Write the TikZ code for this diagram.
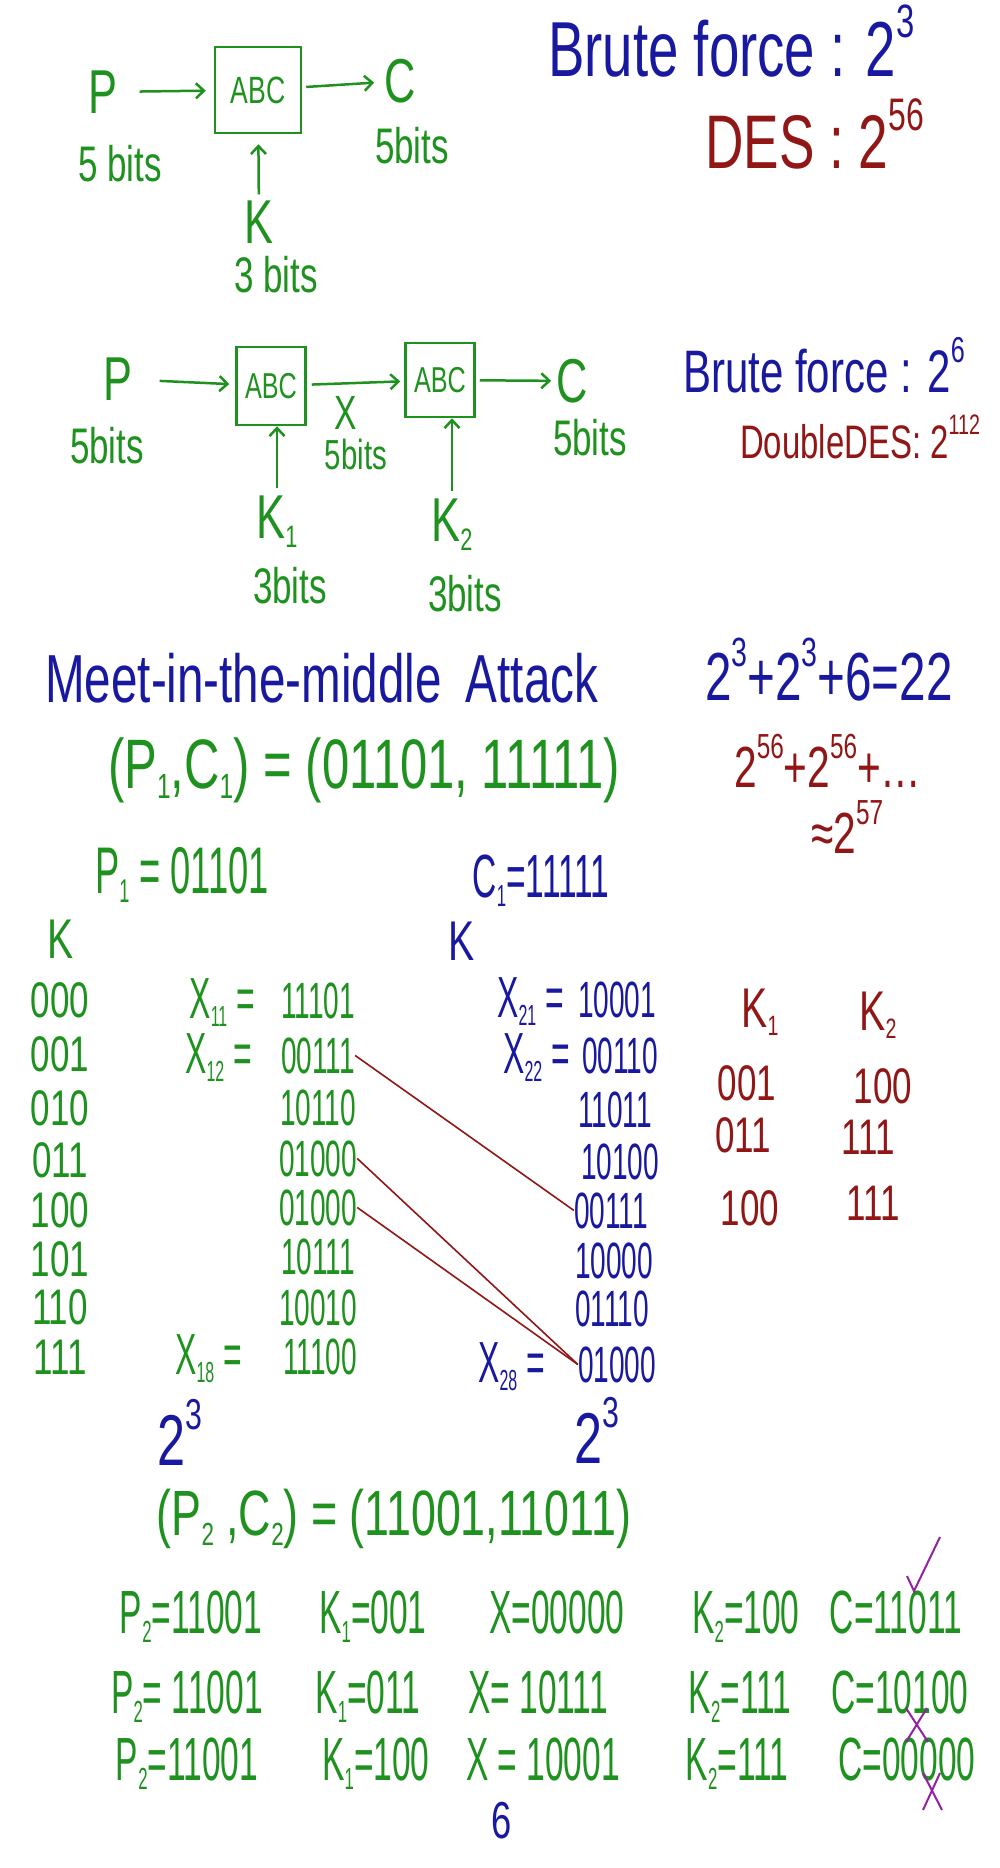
\documentclass[tikz,border=0pt]{standalone}
\usepackage{fontspec}
\usetikzlibrary{arrows.meta}
\setmainfont{Liberation Sans}[FakeStretch=0.7]
\newfontfamily\tallfont{Liberation Sans}[FakeStretch=0.55]
\definecolor{ingreen}{RGB}{30,145,30}
\definecolor{inblue}{RGB}{25,25,160}
\definecolor{inred}{RGB}{145,22,22}
\definecolor{inpurple}{RGB}{145,35,160}
\newcommand\pwr[1]{\raisebox{.5em}{\scalebox{.6}{#1}}}
\newcommand\sbs[1]{\raisebox{-.15em}{\scalebox{.5}{#1}}}
\newcommand\fs[1]{\fontsize{#1}{#1}\selectfont}

\begin{document}
\begin{tikzpicture}[x=1pt,y=-1pt]
  \tikzstyle{greenink}=[text=ingreen,inner sep=0pt]
  \tikzstyle{blueink}=[text=inblue,inner sep=0pt]
  \tikzstyle{redink}=[text=inred,inner sep=0pt]
  \tikzstyle{cipher}=[draw=ingreen,line width=2.5pt,text=ingreen,inner sep=0pt,font=\fs{38}]
  \tikzstyle{flow}=[draw=ingreen,line width=2.5pt,-{Straight Barb[length=8pt,width=15pt]}]
  \tikzstyle{match}=[draw=inred,line width=1.6pt]
  \tikzstyle{tick}=[draw=inpurple,line width=2pt]
  \tikzstyle{keyg}=[greenink,font=\fs{50}]
  \tikzstyle{valg}=[greenink,font=\tallfont\fs{51},anchor=base]
  \tikzstyle{valb}=[blueink,font=\tallfont\fs{51},anchor=base]
  \tikzstyle{keyr}=[redink,font=\fs{50}]
  \tikzstyle{trial}=[greenink,font=\tallfont\fs{61},anchor=base]
  \useasboundingbox[fill=white] (0,0) rectangle (1000,1868);

  % one ABC
  \node[greenink,font=\fs{62}](P) at (103,92){P};
  \node[cipher,minimum width=86pt,minimum height=86pt](abc) at (258,90){ABC};
  \node[greenink,font=\fs{62}](C) at (400,81){C};
  \node[greenink,font=\fs{50}](bitsP) at (120,164){5 bits};
  \node[greenink,font=\fs{50}](bitsC) at (412,146){5bits};
  \node[greenink,font=\fs{62}](K) at (259,222){K};
  \node[greenink,font=\fs{50}](bitsK) at (276,275){3 bits};
  \path[flow,shorten <=22pt,shorten >=8pt] (P) -- (abc);
  \path[flow,shorten <=4pt,shorten >=10pt] (abc) -- (C);
  \path[flow,shorten <=6pt,shorten >=10pt] (K) -- (abc);
  \node[blueink,font=\fs{78},anchor=base west](brute) at (548,77){Brute force : 2\pwr{3}};
  \node[redink,font=\fs{76},anchor=base west](des) at (705,168){DES : 2\pwr{56}};

  % two ABC
  \node[greenink,font=\fs{62}](P2) at (118,379){P};
  \node[greenink,font=\fs{50}](bitsP2) at (107,446){5bits};
  \node[cipher,font=\fs{36},minimum width=69pt,minimum height=78pt](abc1) at (271,386){ABC};
  \node[cipher,font=\fs{36},minimum width=69pt,minimum height=74pt](abc2) at (440,380){ABC};
  \node[greenink,font=\fs{48}](X) at (346,413){X};
  \node[greenink,font=\fs{42}](bitsX) at (356,454){5bits};
  \node[greenink,font=\fs{62}](C2) at (572,381){C};
  \node[greenink,font=\fs{50}](bitsC2) at (590,438){5bits};
  \node[greenink,font=\fs{62}](K1) at (277,522){K\sbs{1}};
  \node[greenink,font=\fs{62}](K2) at (452,525){K\sbs{2}};
  \node[greenink,font=\fs{50}](bitsK1) at (290,586){3bits};
  \node[greenink,font=\fs{50}](bitsK2) at (465,594){3bits};
  \path[flow,shorten <=27pt,shorten >=6pt] (P2) -- (abc1);
  \path[flow,shorten <=5pt,shorten >=4pt] (abc1) -- (abc2);
  \path[flow,shorten <=4pt,shorten >=5pt] (abc2) -- (C2);
  \path[flow,shorten <=8pt] (K1.north) -- (K1.north |- abc1.south);
  \path[flow,shorten <=8pt] (K2.north) -- (K2.north |- abc2.south);
  \node[blueink,font=\fs{60},anchor=base west](brute2) at (683,392){Brute force : 2\pwr{6}};
  \node[redink,font=\fs{47},anchor=base west](ddes) at (740,458){DoubleDES: 2\pwr{112}};

  % meet in the middle
  \node[blueink,font=\fs{68},anchor=base west](mitm) at (45,702){Meet-in-the-middle\hspace{24pt}Attack};
  \node[blueink,font=\fs{68},anchor=base west](cost) at (705,700){2\pwr{3}+2\pwr{3}+6=22};
  \node[greenink,font=\fs{70}](pc1) at (364,770){(P\sbs{1},C\sbs{1}) =\hspace{14pt}(01101, 11111)};
  \node[redink,font=\fs{58},anchor=base west](cost56) at (734,787){2\pwr{56}+2\pwr{56}+\ldots};
  \node[redink,font=\fs{58},anchor=base west](approx) at (811,853){≈2\pwr{57}};
  \node[greenink,font=\tallfont\fs{66},anchor=base](p1) at (182,893){P\sbs{1} = 01101};
  \node[blueink,font=\tallfont\fs{61},anchor=base](c1) at (541,897){C\sbs{1}=11111};

  % tables
  \node[greenink,font=\fs{56}](kg) at (61,939){K};
  \node[blueink,font=\fs{56}](kb) at (462,941){K};
  \node[keyg](k000) at (60,1000){000};
  \node[keyg](k001) at (60,1054){001};
  \node[keyg](k010) at (60,1108){010};
  \node[keyg](k011) at (60,1160){011};
  \node[keyg](k100) at (60,1210){100};
  \node[keyg](k101) at (60,1259){101};
  \node[keyg](k110) at (60,1307){110};
  \node[keyg](k111) at (60,1357){111};

  \node[valg](x11) at (318,1018){11101};
  \node[valg](x12) at (318,1073){00111};
  \node[valg](x13) at (318,1125){10110};
  \node[valg](x14) at (318,1176){01000};
  \node[valg](x15) at (318,1225){01000};
  \node[valg](x16) at (318,1274){10111};
  \node[valg](x17) at (318,1325){10010};
  \node[valg](x18) at (320,1374){11100};
  \node[greenink,font=\tallfont\fs{58},anchor=base east](lx11) at (255,1018){X\sbs{11} =};
  \node[greenink,font=\tallfont\fs{58},anchor=base east](lx12) at (252,1073){X\sbs{12} =};
  \node[greenink,font=\tallfont\fs{58},anchor=base east](lx18) at (242,1374){X\sbs{18} =};

  \node[valb](x21) at (617,1017){10001};
  \node[valb](x22) at (620,1073){00110};
  \node[valb](x23) at (615,1127){11011};
  \node[valb](x24) at (620,1179){10100};
  \node[valb](x25) at (611,1228){00111};
  \node[valb](x26) at (614,1278){10000};
  \node[valb](x27) at (612,1326){01110};
  \node[valb](x28) at (617,1382){01000};
  \node[blueink,font=\tallfont\fs{58},anchor=base east](lx21) at (564,1017){X\sbs{21} =};
  \node[blueink,font=\tallfont\fs{58},anchor=base east](lx22) at (570,1073){X\sbs{22} =};
  \node[blueink,font=\tallfont\fs{58},anchor=base east](lx28) at (545,1382){X\sbs{28} =};

  \path[match] (x12.east) -- (x25.west);
  \path[match] (x14.east) -- (x28.west);
  \path[match] (x15.east) -- (x28.west);

  \node[keyr,font=\fs{56}](rk1) at (760,1012){K\sbs{1}};
  \node[keyr,font=\fs{56}](rk2) at (878,1015){K\sbs{2}};
  \node[keyr](ra1) at (747,1083){001};
  \node[keyr](rb1) at (883,1086){100};
  \node[keyr](ra2) at (743,1135){011};
  \node[keyr](rb2) at (868,1137){111};
  \node[keyr](ra3) at (750,1208){100};
  \node[keyr](rb3) at (873,1203){111};

  % second pair
  \node[blueink,font=\fs{72},anchor=base west](n1) at (157,1465){2\pwr{3}};
  \node[blueink,font=\fs{72},anchor=base west](n2) at (574,1463){2\pwr{3}};
  \node[greenink,font=\fs{64}](pc2) at (394,1519){(P\sbs{2} ,C\sbs{2}) = (11001,11011)};

  \node[trial](t1p) at (191,1633){P\sbs{2}=11001};
  \node[trial](t1k) at (373,1633){K\sbs{1}=001};
  \node[trial](t1x) at (557,1633){X=00000};
  \node[trial](t1l) at (746,1633){K\sbs{2}=100};
  \node[trial](t1c) at (896,1633){C=11011};
  \node[trial](t2p) at (187,1713){P\sbs{2}= 11001};
  \node[trial](t2k) at (368,1713){K\sbs{1}=011};
  \node[trial](t2x) at (538,1713){X= 10111};
  \node[trial](t2l) at (740,1713){K\sbs{2}=111};
  \node[trial](t2c) at (900,1713){C=10100};
  \node[trial](t3p) at (187,1780){P\sbs{2}=11001};
  \node[trial](t3k) at (376,1780){K\sbs{1}=100};
  \node[trial](t3x) at (543,1780){X = 10001};
  \node[trial](t3l) at (737,1780){K\sbs{2}=111};
  \node[trial](t3c) at (907,1780){C=00000};

  \path[tick] (907,1576) -- (914,1591) -- (940,1537);
  \path[tick] (906,1708) -- (928,1742) (927,1708) -- (906,1742);
  \path[tick] (923,1773) -- (942,1810) (940,1773) -- (923,1810);

  \node[blueink,font=\fs{52}](page) at (502,1821){6};
\end{tikzpicture}
\end{document}
